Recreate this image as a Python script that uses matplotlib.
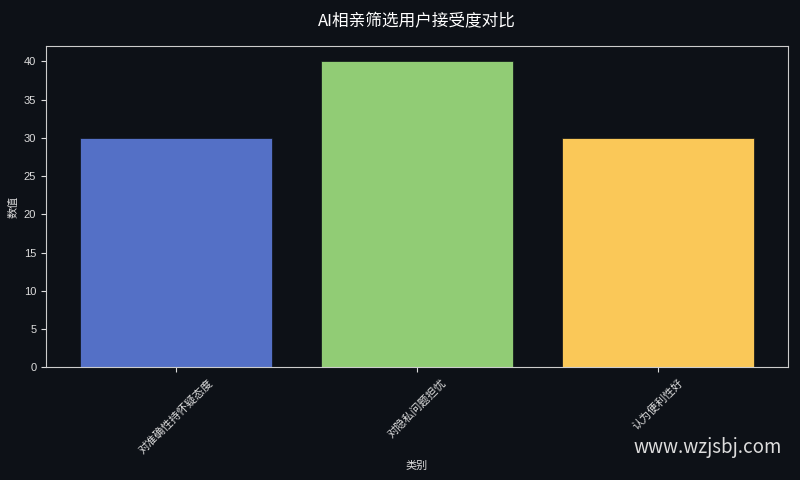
import matplotlib
matplotlib.use('Agg')
import matplotlib.pyplot as plt

plt.rcParams['font.family'] = ['Noto Sans CJK SC', 'DejaVu Sans']

categories = ['对准确性持怀疑态度', '对隐私问题担忧', '认为便利性好']
values = [30, 40, 30]
colors = ['#5470c6', '#91cc75', '#fac858']

bg = '#0d1117'
fg = '#dddddd'

fig = plt.figure(figsize=(8, 4.8), dpi=100, facecolor=bg)
ax = fig.add_axes([0.0575, 0.235, 0.9275, 0.669])
ax.set_facecolor(bg)

ax.bar(range(len(categories)), values, color=colors, width=0.8, edgecolor=bg, linewidth=0.5)

ax.set_xticks(range(len(categories)))
ax.set_xticklabels(categories, rotation=45, ha='center')
ax.tick_params(colors=fg, labelsize=8)
for label in ax.get_yticklabels():
    label.set_family(['Liberation Sans', 'DejaVu Sans'])
for s in ax.spines.values():
    s.set_color('#cccccc')

ax.set_xlabel('类别', color=fg, fontsize=8)
ax.set_ylabel('数值', color=fg, fontsize=8)
ax.set_title('AI相亲筛选用户接受度对比', color='white', fontsize=12, pad=14)

fig.text(0.977, 0.067, 'www.wzjsbj.com', color='#dddddd', fontsize=13.5, ha='right', va='center')

plt.savefig('out.png', dpi=100, facecolor=bg)
